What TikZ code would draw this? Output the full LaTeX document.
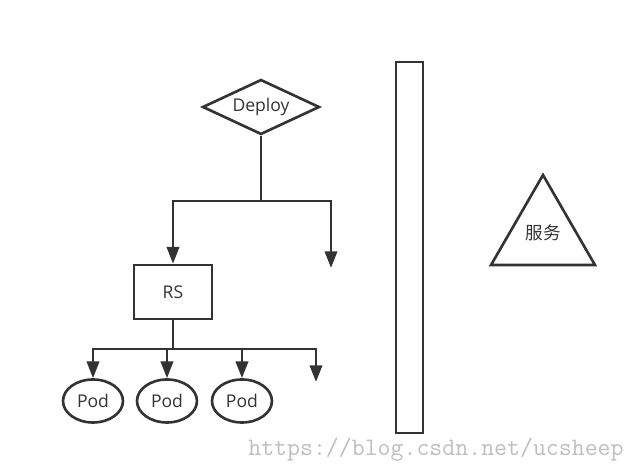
\documentclass[tikz,border=0pt]{standalone}
\usepackage{fontspec}
\setmainfont{Open Sans}
\newfontfamily\cjk{Noto Sans CJK SC}
\usepackage{xcolor}
\usetikzlibrary{shapes.geometric, arrows.meta, positioning}

\definecolor{ink}{HTML}{333333}
\definecolor{wmark}{HTML}{BEBEBE}

\tikzset{
  box/.style={draw=ink, line width=1.5pt, text=ink, font=\fontsize{10}{12}\selectfont},
  kind/.style={box, diamond, aspect=2.13, inner sep=0pt, minimum width=2.34cm, minimum height=1.1cm},
  set/.style={box, rectangle, minimum width=1.56cm, minimum height=1.08cm},
  pod/.style={box, ellipse, inner sep=0pt, minimum width=1.2cm, minimum height=0.86cm},
  link/.style={draw=ink, line width=1.5pt},
  tolink/.style={link, -{Triangle[width=7pt,length=9.5pt]}}
}

\begin{document}
\begin{tikzpicture}[x=0.02cm, y=-0.02cm, on grid]
        \useasboundingbox (0,0) rectangle (636,475);

        \node[kind] (deploy) at (261,107) {Deploy};
        \node[set] (rs) at (173,292) {RS};
        \node[pod] (pod1) at (93,401) {Pod};
        \node[pod] (pod2) [right=1.48cm of pod1] {Pod};
        \node[pod] (pod3) [right=1.5cm of pod2] {Pod};

        \node[box, rectangle, inner sep=0pt, minimum width=0.54cm, minimum height=7.42cm] (bar) at (409.5,247.5) {};
        \node[box, regular polygon, regular polygon sides=3, inner sep=0pt, minimum size=2.4cm] (svc) at (543,235) {};
        \node[text=ink, font=\cjk\fontsize{10}{12}\selectfont] (svclabel) at (543,233) {服务};

        \coordinate (deploysplit) at (261,201);
        \coordinate (deployend) at (331,268);
        \coordinate (rssplit) at (173,349);
        \coordinate (rsend) at (316,382);

        \path[link] (deploy) -- (deploysplit);
        \path[tolink] (deploysplit) -| (rs.north);
        \path[tolink] (deploysplit) -| (deployend);

        \path[link] (rs) -- (rssplit);
        \path[tolink] (rssplit) -| (pod1.north);
        \path[tolink] (rssplit) -| (pod2.north);
        \path[tolink] (rssplit) -| (pod3.north);
        \path[tolink] (rssplit) -| (rsend);

        \node[anchor=base west, text=wmark, font=\ttfamily\fontsize{14.3}{16}\selectfont, inner sep=0pt] (mark) at (248,456) {https://blog.csdn.net/ucsheep};
    \end{tikzpicture}
\end{document}
